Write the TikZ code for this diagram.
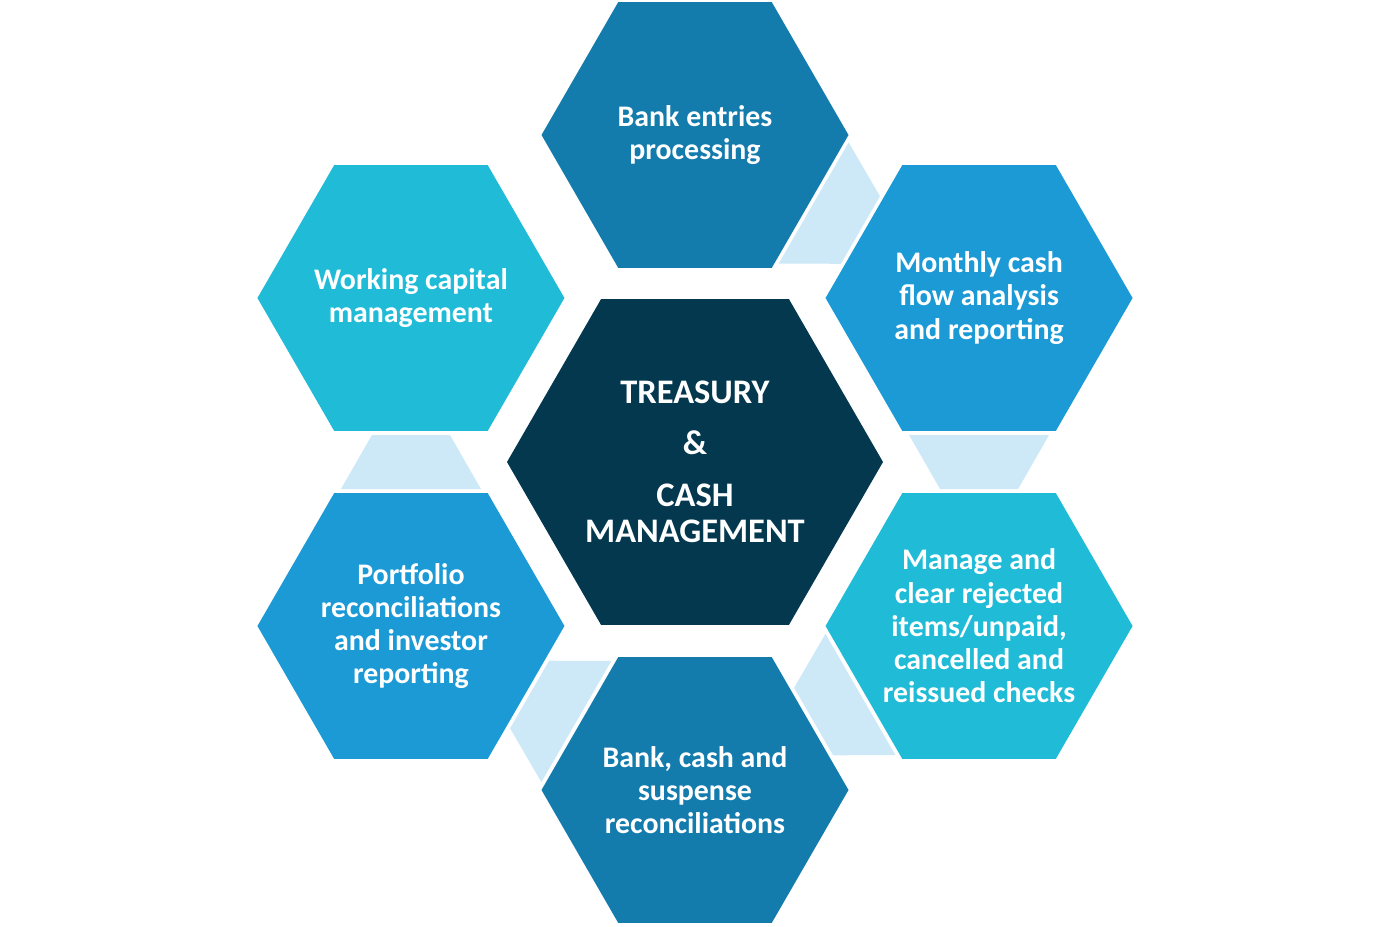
\documentclass[tikz,border=0pt]{standalone}
\usepackage{fontspec}
\setmainfont{Carlito}
\usepackage{tikz}
\usetikzlibrary{shapes.geometric, calc}
\definecolor{corenavy}{HTML}{03384F}
\definecolor{deepblue}{HTML}{137CAD}
\definecolor{midblue}{HTML}{1B9AD6}
\definecolor{cyanblue}{HTML}{1FBBD7}
\definecolor{paleblue}{HTML}{CDE8F6}

\begin{document}
\begin{tikzpicture}
\tikzstyle{hexa} = [regular polygon, regular polygon sides=6, minimum size=3.07cm, inner sep=0pt]
\tikzstyle{core} = [regular polygon, regular polygon sides=6, minimum size=3.76cm, inner sep=0pt, fill=corenavy]
\tikzstyle{txt} = [text=white, align=center, inner sep=0pt, font=\bfseries\fontsize{8.5}{9.45}\selectfont]
\tikzstyle{link} = [fill=paleblue]

\useasboundingbox (-6.95,-4.64) rectangle (6.94,4.62);

\node (cash) [core] at (0,0) {};
\node (casht) [txt, font=\bfseries\fontsize{9.8}{10.5}\selectfont] at (cash) {TREASURY\\[4.1pt] \&\\[4.1pt] CASH\\ MANAGEMENT};

\node (bank) [hexa, fill=deepblue] at (90:3.27) {};
\node (flow) [hexa, fill=midblue] at (30:3.28) {};
\node (reject) [hexa, fill=cyanblue] at (-30:3.28) {};
\node (recon) [hexa, fill=deepblue] at (-90:3.28) {};
\node (port) [hexa, fill=midblue] at (-150:3.28) {};
\node (wcap) [hexa, fill=cyanblue] at (150:3.28) {};

\node (bankt) [txt] at (bank) {Bank entries\\ processing};
\node (flowt) [txt] at (flow) {Monthly cash\\ flow analysis\\ and reporting};
\node (rejectt) [txt] at (reject) {Manage and\\ clear rejected\\ items/unpaid,\\ cancelled and\\ reissued checks};
\node (recont) [txt] at (recon) {Bank, cash and\\ suspense\\ reconciliations};
\node (portt) [txt] at (port) {Portfolio\\ reconciliations\\ and investor\\ reporting};
\node (wcapt) [txt] at (wcap) {Working capital\\ management};

% bands between neighbouring hexagons
\foreach \a/\b/\r in {bank/flow/60, flow/reject/0, reject/recon/-60, recon/port/-120, port/wcap/-180}
  \fill[link, shift={($(\a)!0.5!(\b)$)}, rotate=\r] (-0.70,0.27) -- (0.70,0.27) -- (0.39,-0.27) -- (-0.39,-0.27) -- cycle;

\end{tikzpicture}
\end{document}
